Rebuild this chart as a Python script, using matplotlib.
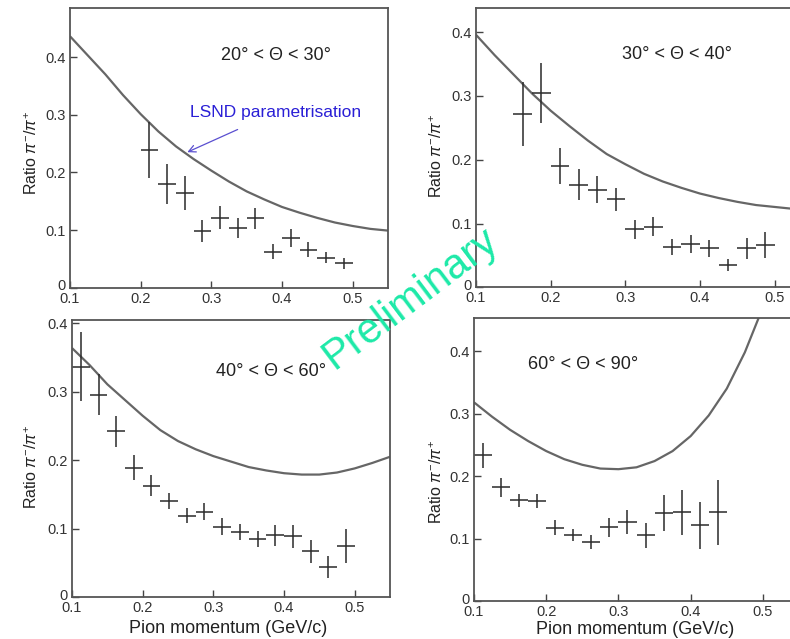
import matplotlib
matplotlib.use("Agg")
import matplotlib.pyplot as plt
import matplotlib.transforms as mtransforms

plt.rcParams['font.family'] = ['Liberation Sans', 'DejaVu Sans']
plt.rcParams['mathtext.fontset'] = 'custom'
plt.rcParams['mathtext.rm'] = 'Liberation Sans'
plt.rcParams['mathtext.it'] = 'Liberation Sans:italic'

# ---------------- data ----------------
titles = ["20° < Θ < 30°", "30° < Θ < 40°", "40° < Θ < 60°", "60° < Θ < 90°"]

# measured ratio points (bin centres, values, errors)
p1_x = [0.2125, 0.2375, 0.2625, 0.2875, 0.3125, 0.3375, 0.3625, 0.3875, 0.4125, 0.4375, 0.4625, 0.4875]
p1_y = [0.239, 0.180, 0.164, 0.099, 0.121, 0.103, 0.120, 0.062, 0.086, 0.066, 0.052, 0.042]
p1_e = [0.048, 0.034, 0.029, 0.019, 0.020, 0.017, 0.019, 0.013, 0.015, 0.013, 0.010, 0.009]

p2_x = [0.1625, 0.1875, 0.2125, 0.2375, 0.2625, 0.2875, 0.3125, 0.3375, 0.3625, 0.3875, 0.4125, 0.4375, 0.4625, 0.4875]
p2_y = [0.272, 0.304, 0.190, 0.161, 0.153, 0.138, 0.091, 0.095, 0.063, 0.0675, 0.061, 0.035, 0.061, 0.0665]
p2_e = [0.050, 0.047, 0.028, 0.024, 0.021, 0.018, 0.015, 0.015, 0.013, 0.014, 0.013, 0.010, 0.016, 0.020]

p3_x = [0.1125, 0.1375, 0.1625, 0.1875, 0.2125, 0.2375, 0.2625, 0.2875, 0.3125, 0.3375, 0.3625, 0.3875, 0.4125, 0.4375, 0.4625, 0.4875]
p3_y = [0.337, 0.296, 0.242, 0.189, 0.163, 0.140, 0.119, 0.125, 0.103, 0.095, 0.085, 0.090, 0.089, 0.067, 0.044, 0.074]
p3_e = [0.050, 0.030, 0.022, 0.018, 0.015, 0.012, 0.011, 0.012, 0.012, 0.012, 0.012, 0.015, 0.017, 0.017, 0.016, 0.025]

p4_x = [0.1125, 0.1375, 0.1625, 0.1875, 0.2125, 0.2375, 0.2625, 0.2875, 0.3125, 0.3375, 0.3625, 0.3875, 0.4125, 0.4375]
p4_y = [0.233, 0.182, 0.161, 0.160, 0.117, 0.106, 0.095, 0.118, 0.127, 0.105, 0.141, 0.142, 0.121, 0.142]
p4_e = [0.020, 0.015, 0.011, 0.011, 0.012, 0.010, 0.011, 0.015, 0.019, 0.020, 0.029, 0.036, 0.038, 0.052]

bin_half = 0.0125

# LSND parametrisation curves
c1_x = [0.100, 0.125, 0.150, 0.175, 0.200, 0.225, 0.250, 0.275, 0.300, 0.325, 0.350, 0.375, 0.400, 0.425, 0.450, 0.475, 0.500, 0.525, 0.550]
c1_y = [0.436, 0.403, 0.370, 0.334, 0.301, 0.271, 0.245, 0.223, 0.203, 0.184, 0.167, 0.153, 0.140, 0.130, 0.121, 0.113, 0.107, 0.102, 0.099]

c2_x = [0.100, 0.125, 0.150, 0.175, 0.200, 0.225, 0.250, 0.275, 0.300, 0.325, 0.350, 0.375, 0.400, 0.425, 0.450, 0.475, 0.500, 0.525, 0.550]
c2_y = [0.396, 0.364, 0.334, 0.304, 0.277, 0.253, 0.230, 0.209, 0.193, 0.178, 0.166, 0.156, 0.147, 0.140, 0.134, 0.129, 0.126, 0.123, 0.121]

c3_x = [0.100, 0.125, 0.150, 0.175, 0.200, 0.225, 0.250, 0.275, 0.300, 0.325, 0.350, 0.375, 0.400, 0.425, 0.450, 0.475, 0.500, 0.525, 0.550]
c3_y = [0.364, 0.339, 0.311, 0.288, 0.265, 0.244, 0.228, 0.216, 0.206, 0.198, 0.190, 0.185, 0.181, 0.179, 0.179, 0.182, 0.188, 0.196, 0.205]

c4_x = [0.100, 0.125, 0.150, 0.175, 0.200, 0.225, 0.250, 0.275, 0.300, 0.325, 0.350, 0.375, 0.400, 0.425, 0.450, 0.475, 0.500]
c4_y = [0.318, 0.295, 0.274, 0.256, 0.240, 0.227, 0.218, 0.212, 0.211, 0.214, 0.224, 0.240, 0.264, 0.297, 0.340, 0.398, 0.470]

x_ticks = [0.1, 0.2, 0.3, 0.4, 0.5]
x_ticklabels = ["0.1", "0.2", "0.3", "0.4", "0.5"]
y_ticks = [0, 0.1, 0.2, 0.3, 0.4]
y_ticklabels = ["0", "0.1", "0.2", "0.3", "0.4"]

# ---------------- figure ----------------
W, H = 790, 639
fig = plt.figure(figsize=(W / 100, H / 100), dpi=100)

def frac(left, right, top, bottom):
    return [left / W, 1 - bottom / H, (right - left) / W, (bottom - top) / H]

panels = [
    dict(rect=frac(70, 388, 8, 287.7), ylim=0.485, pts=(p1_x, p1_y, p1_e), cur=(c1_x, c1_y),
         title=titles[0], tpos=(0.391, 0.403), ylab=(-0.12, 0.48), xlab=None),
    dict(rect=frac(476, 812, 8, 287.3), ylim=0.438, pts=(p2_x, p2_y, p2_e), cur=(c2_x, c2_y),
         title=titles[1], tpos=(0.369, 0.365), ylab=(-0.116, 0.47), xlab=None),
    dict(rect=frac(72, 390, 320, 597), ylim=0.405, pts=(p3_x, p3_y, p3_e), cur=(c3_x, c3_y),
         title=titles[2], tpos=(0.381, 0.329), ylab=(-0.126, 0.47), xlab=(0.49, -0.112)),
    dict(rect=frac(474, 799, 318, 601), ylim=0.453, pts=(p4_x, p4_y, p4_e), cur=(c4_x, c4_y),
         title=titles[3], tpos=(0.251, 0.378), ylab=(-0.114, 0.42), xlab=(0.495, -0.1)),
]

line_col = "#666666"
spine_col = "#555555"
axes = []
for p in panels:
    ax = fig.add_axes(p["rect"])
    axes.append(ax)
    ax.set_xlim(0.1, 0.55)
    ax.set_ylim(0, p["ylim"])
    cx, cy = p["cur"]
    ax.plot(cx, cy, color=line_col, lw=1.6, solid_capstyle='butt')
    px, py, pe = p["pts"]
    ax.errorbar(px, py, yerr=pe, xerr=bin_half, fmt='none', ecolor="#2a2a2a",
                elinewidth=1.1, capsize=0)
    ax.set_xticks(x_ticks)
    ax.set_xticklabels(x_ticklabels)
    ax.set_yticks(y_ticks)
    ax.set_yticklabels(y_ticklabels)
    ax.tick_params(direction='in', length=5, width=1, colors="#444444",
                   labelcolor="#333333", labelsize=10.5, pad=3)
    # lift the "0" label a little, as in the original
    zero_lbl = ax.get_yticklabels()[0]
    zero_lbl.set_transform(zero_lbl.get_transform() +
                           mtransforms.ScaledTranslation(0, 3 / 100, fig.dpi_scale_trans))
    for s in ax.spines.values():
        s.set_color(spine_col)
        s.set_linewidth(1.3)
    ax.text(p["tpos"][0], p["tpos"][1], p["title"], fontsize=13, ha='center',
            va='center', color="#222222")
    ax.set_ylabel(r"Ratio $\pi^{-}/\pi^{+}$", fontsize=11.5, color="#222222",
                  ha='center', va='center')
    ax.yaxis.set_label_coords(*p["ylab"])
    if p["xlab"] is not None:
        ax.set_xlabel("Pion momentum (GeV/c)", fontsize=13, color="#222222",
                      ha='center', va='center')
        ax.xaxis.set_label_coords(*p["xlab"])

# LSND annotation
axes[0].annotate("LSND parametrisation", xy=(0.266, 0.235), xytext=(0.391, 0.304),
                 fontsize=12.5, color="#2a1fd6", ha='center', va='center',
                 arrowprops=dict(arrowstyle='->', color="#5a4fd0", lw=0.9,
                                 shrinkA=12, shrinkB=0))

# Preliminary watermark
fig.text(411 / W, 1 - 298 / H, "Preliminary", fontsize=30, color="#1de9a8",
         rotation=37, ha='center', va='center', rotation_mode='anchor')

fig.savefig("out.png", dpi=100)
